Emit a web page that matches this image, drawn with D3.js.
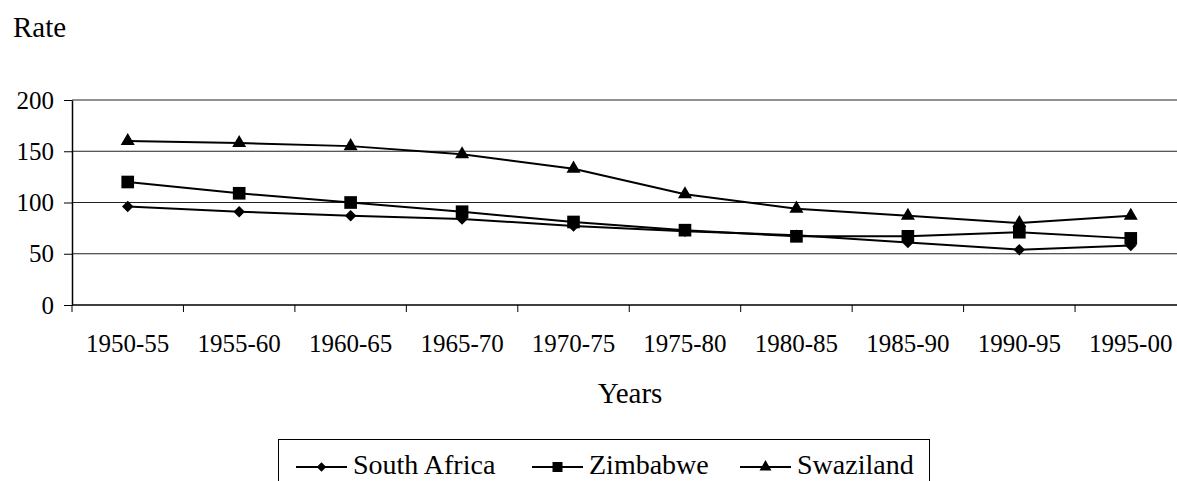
<!DOCTYPE html>
<html>
<head>
<meta charset="utf-8">
<script src="https://cdn.jsdelivr.net/npm/d3@7"></script>
<style>
  html, body { margin: 0; padding: 0; background: #fff; }
  svg { display: block; }
</style>
</head>
<body>
<div id="chart"></div>
<script>
// Data
const periods = ['1950-55', '1955-60', '1960-65', '1965-70', '1970-75', '1975-80', '1980-85', '1985-90', '1990-95', '1995-00'];
const southAfrica = [96, 91, 87, 84, 77, 72, 68, 61, 54, 58];
const zimbabwe = [120, 109, 100, 91, 81, 73, 67, 67, 71, 65];
const swaziland = [160, 158, 155, 147, 133, 108, 94, 87, 80, 87];
const yTicks = [0, 50, 100, 150, 200];

const series = [
  { name: 'South Africa', values: southAfrica, symbol: d3.symbolDiamond2, size: 84, legendSize: 58 },
  { name: 'Zimbabwe', values: zimbabwe, symbol: d3.symbolSquare, size: 160, legendSize: 100 },
  { name: 'Swaziland', values: swaziland, symbol: d3.symbolTriangle, size: 85, legendSize: 62 }
];

const FONT = 'Liberation Serif';
const width = 1177, height = 481;
const margin = { top: 100, left: 72 };
const plotBottom = 305;
const bandWidth = 111.45;

const svg = d3.select('#chart').append('svg')
  .attr('width', width)
  .attr('height', height)
  .style('font-family', FONT);

const x = d3.scaleBand()
  .domain(periods)
  .range([margin.left, margin.left + bandWidth * periods.length]);

const y = d3.scaleLinear()
  .domain([0, 200])
  .range([plotBottom, margin.top]);

// Gridlines
svg.append('g')
  .selectAll('line')
  .data(yTicks.filter(d => d > 0))
  .join('line')
  .attr('x1', margin.left)
  .attr('x2', x.range()[1])
  .attr('y1', d => y(d))
  .attr('y2', d => y(d))
  .attr('stroke', '#222')
  .attr('stroke-width', 1);

// Y axis
const yAxis = svg.append('g')
  .attr('transform', `translate(${margin.left},0)`)
  .call(d3.axisLeft(y).tickValues(yTicks).tickSize(8).tickPadding(10).tickSizeOuter(0));
yAxis.attr('font-family', null).attr('font-size', 25);
yAxis.select('.domain').attr('stroke', '#000').attr('stroke-width', 1.5);
yAxis.selectAll('.tick line').attr('stroke', '#000');
yAxis.selectAll('.tick text').style('font-family', FONT).attr('fill', '#000');

// X axis line + tick marks at band boundaries
svg.append('line')
  .attr('x1', margin.left).attr('x2', x.range()[1])
  .attr('y1', plotBottom).attr('y2', plotBottom)
  .attr('stroke', '#000').attr('stroke-width', 1.5);

svg.append('g')
  .selectAll('line')
  .data(periods)
  .join('line')
  .attr('x1', d => x(d))
  .attr('x2', d => x(d))
  .attr('y1', plotBottom)
  .attr('y2', plotBottom + 7)
  .attr('stroke', '#000');

svg.append('g')
  .selectAll('text')
  .data(periods)
  .join('text')
  .attr('x', d => x(d) + x.bandwidth() / 2)
  .attr('y', 352)
  .attr('text-anchor', 'middle')
  .style('font-family', FONT)
  .attr('font-size', 25)
  .text(d => d);

// Axis titles
svg.append('text')
  .attr('x', 13)
  .attr('y', 37)
  .style('font-family', FONT)
  .attr('font-size', 29)
  .text('Rate');

svg.append('text')
  .attr('x', 630)
  .attr('y', 403)
  .attr('text-anchor', 'middle')
  .style('font-family', FONT)
  .attr('font-size', 29)
  .text('Years');

// Lines and markers
const line = d3.line()
  .x((d, i) => x(periods[i]) + x.bandwidth() / 2)
  .y(d => y(d));

series.forEach(s => {
  const g = svg.append('g');
  g.append('path')
    .datum(s.values)
    .attr('d', line)
    .attr('fill', 'none')
    .attr('stroke', '#000')
    .attr('stroke-width', 2);

  g.selectAll('path.marker')
    .data(s.values)
    .join('path')
    .attr('class', 'marker')
    .attr('transform', (d, i) => `translate(${x(periods[i]) + x.bandwidth() / 2},${y(d)})`)
    .attr('d', d3.symbol().type(s.symbol).size(s.size))
    .attr('fill', '#000');
});

// Legend
const legendItems = [
  { lineStart: 296, textStart: 353 },
  { lineStart: 532, textStart: 589 },
  { lineStart: 740, textStart: 797 }
];

svg.append('rect')
  .attr('x', 278.5)
  .attr('y', 439.5)
  .attr('width', 651)
  .attr('height', 60)
  .attr('fill', 'none')
  .attr('stroke', '#000')
  .attr('stroke-width', 1);

series.forEach((s, i) => {
  const item = legendItems[i];
  const g = svg.append('g');
  g.append('line')
    .attr('x1', item.lineStart).attr('x2', item.lineStart + 51)
    .attr('y1', 467).attr('y2', 467)
    .attr('stroke', '#000').attr('stroke-width', 2);
  g.append('path')
    .attr('transform', `translate(${item.lineStart + 25.5},467)`)
    .attr('d', d3.symbol().type(s.symbol).size(s.legendSize))
    .attr('fill', '#000');
  g.append('text')
    .attr('x', item.textStart)
    .attr('y', 474)
    .style('font-family', FONT)
    .attr('font-size', 28)
    .text(s.name);
});
</script>
</body>
</html>
